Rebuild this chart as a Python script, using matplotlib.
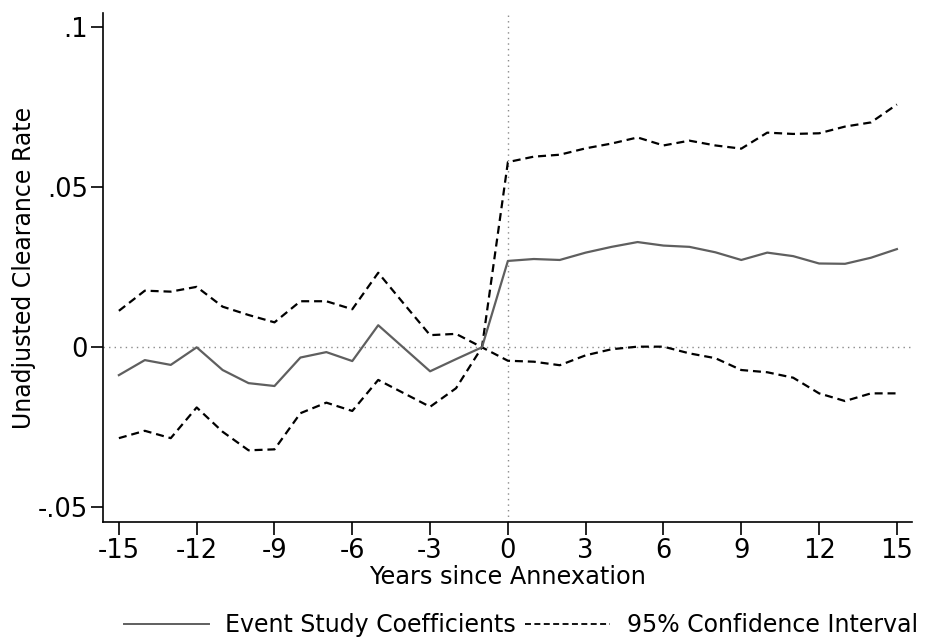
import matplotlib
matplotlib.use("Agg")
import matplotlib.pyplot as plt
from matplotlib.lines import Line2D

# Event-time grid and estimates
years = list(range(-15, 16))
coef = [-0.0087, -0.0040, -0.0055, 0.0000, -0.0071, -0.0112, -0.0121, -0.0032,
        -0.0015, -0.0043, 0.0069, -0.0003, -0.0075, -0.0037, 0.0000,
        0.0270, 0.0276, 0.0273, 0.0296, 0.0314, 0.0329, 0.0318, 0.0314,
        0.0297, 0.0273, 0.0296, 0.0285, 0.0262, 0.0261, 0.0280, 0.0307]
ci_upper = [0.0114, 0.0177, 0.0174, 0.0189, 0.0127, 0.0101, 0.0078, 0.0144,
            0.0144, 0.0119, 0.0233, 0.0135, 0.0038, 0.0042, 0.0000,
            0.0579, 0.0596, 0.0602, 0.0622, 0.0637, 0.0656, 0.0631, 0.0646,
            0.0631, 0.0621, 0.0671, 0.0667, 0.0669, 0.0690, 0.0703, 0.0759]
ci_lower = [-0.0284, -0.0261, -0.0284, -0.0188, -0.0264, -0.0322, -0.0319, -0.0206,
            -0.0173, -0.0199, -0.0102, -0.0144, -0.0186, -0.0128, 0.0000,
            -0.0042, -0.0045, -0.0056, -0.0025, -0.0006, 0.0002, 0.0002, -0.0019,
            -0.0034, -0.0071, -0.0078, -0.0095, -0.0144, -0.0168, -0.0144, -0.0144]

x_ticks = list(range(-15, 16, 3))
y_ticks = [-0.05, 0.0, 0.05, 0.1]
y_tick_labels = ["-.05", "0", ".05", ".1"]

plt.rcParams["font.family"] = ["DejaVu Sans"]

fig = plt.figure(figsize=(9.25, 6.41), dpi=100)
ax = fig.add_axes([0.1117, 0.1852, 0.8739, 0.7950])

# reference lines
ax.axhline(0, color="#8a8a8a", lw=1.0, ls=(0, (1, 3)), zorder=1)
ax.axvline(0, color="#8a8a8a", lw=1.0, ls=(0, (1, 3)), zorder=1)

dash = (0, (3.6, 2.2))
ax.plot(years, ci_upper, color="black", lw=1.6, ls=dash, zorder=2)
ax.plot(years, ci_lower, color="black", lw=1.6, ls=dash, zorder=2)
ax.plot(years, coef, color="#5f5f5f", lw=1.6, zorder=3)

ax.set_xlim(-15.6, 15.57)
ax.set_ylim(-0.0547, 0.1046)
ax.set_xticks(x_ticks)
ax.set_xticklabels([str(t) for t in x_ticks])
ax.set_yticks(y_ticks)
ax.set_yticklabels(y_tick_labels)

for side in ("top", "right"):
    ax.spines[side].set_visible(False)
for side in ("left", "bottom"):
    ax.spines[side].set_linewidth(1.2)

ax.tick_params(axis="both", direction="out", length=9, width=1.2,
               labelsize=18.5, colors="black", pad=2)
ax.set_xlabel("Years since Annexation", fontsize=17.3, labelpad=1)
ax.set_ylabel("Unadjusted Clearance Rate", fontsize=17, labelpad=1.5)

handles = [
    Line2D([], [], color="#5f5f5f", lw=1.4),
    Line2D([], [], color="black", lw=1.3, ls=(0, (3.3, 1.9))),
]
labels = ["Event Study Coefficients", "95% Confidence Interval"]
fig.legend(handles, labels, loc="center", bbox_to_anchor=(0.563, 0.025),
           ncol=2, frameon=False, fontsize=17, handlelength=3.6,
           handletextpad=0.7, columnspacing=0.4)

fig.savefig("out.png", dpi=100)
